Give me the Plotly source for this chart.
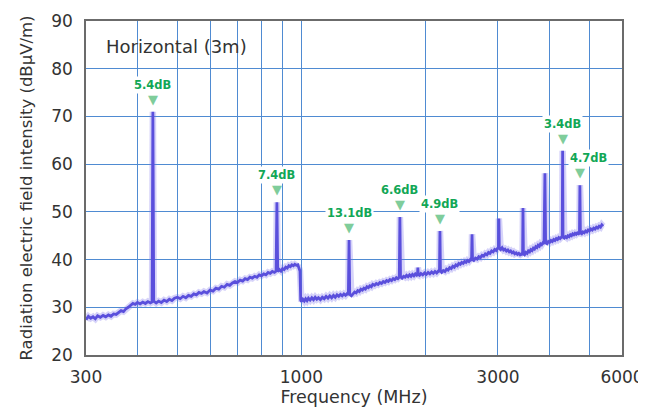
import numpy as np
import plotly.graph_objects as go

# measured emission trace (MHz, dBuV/m)
freq_mhz = [
    300, 304, 308, 312, 316, 320, 325, 330, 335, 340, 345, 350, 355, 360, 365, 370, 375, 380, 385, 390,
    395, 400, 406, 412, 418, 424, 430, 434, 436, 438, 444, 450, 457, 464, 471, 478, 485, 492, 500, 508,
    516, 524, 532, 540, 548, 556, 564, 572, 580, 590, 600, 610, 620, 630, 640, 650, 660, 670, 680, 690,
    700, 710, 720, 730, 740, 750, 760, 770, 780, 790, 800, 810, 820, 830, 840, 850, 860, 868, 872, 876,
    884, 892, 900, 908, 916, 924, 932, 940, 948, 956, 964, 972, 980, 986, 992, 996,
    1000, 1008, 1016, 1024, 1032, 1040, 1050, 1060, 1070, 1080, 1090, 1100, 1112, 1124, 1136, 1148, 1160,
    1172, 1184, 1196, 1208, 1220, 1232, 1244, 1256, 1268, 1280, 1292, 1300, 1305, 1310, 1322, 1334, 1346,
    1358, 1370, 1382, 1394, 1406, 1418, 1430, 1442, 1454, 1466, 1478, 1490, 1505, 1520, 1535, 1550, 1565,
    1580, 1595, 1610, 1625, 1640, 1655, 1670, 1685, 1700, 1715, 1728, 1734, 1740, 1755, 1770, 1785, 1800,
    1815, 1830, 1845, 1860, 1875, 1890, 1905, 1913, 1917, 1921, 1935, 1950, 1970, 1990, 2010, 2030, 2050,
    2070, 2090, 2110, 2130, 2150, 2163, 2169, 2175, 2190, 2210, 2230, 2250, 2270, 2290, 2310, 2330, 2350,
    2370, 2390, 2410, 2430, 2450, 2470, 2490, 2510, 2530, 2550, 2570, 2588, 2595, 2602, 2620, 2645, 2670,
    2695, 2720, 2745, 2770, 2795, 2820, 2845, 2870, 2895, 2920, 2945, 2970, 2995, 3008, 3015, 3022, 3045,
    3070, 3095, 3120, 3145, 3170, 3195, 3220, 3245, 3270, 3295, 3320, 3345, 3370, 3395, 3420, 3442, 3450,
    3458, 3480, 3505, 3530, 3555, 3580, 3605, 3630, 3655, 3680, 3705, 3730, 3755, 3780, 3805, 3830, 3855,
    3880, 3900, 3915, 3945, 3975, 4005, 4035, 4065, 4095, 4125, 4155, 4185, 4215, 4245, 4275, 4295, 4306,
    4315, 4345, 4375, 4405, 4435, 4465, 4495, 4525, 4555, 4585, 4615, 4645, 4675, 4710, 4730, 4742, 4755,
    4790, 4825, 4860, 4895, 4930, 4965, 5000, 5040, 5080, 5120, 5160, 5200, 5240, 5280, 5320, 5360, 5400,
]
level_db = [
    27.4, 28.1, 27.7, 28.0, 27.6, 28.2, 27.9, 28.3, 28.0, 28.4, 28.1, 28.6, 28.5, 29.0, 29.3, 29.1, 29.7, 30.0, 30.4, 30.8,
    30.6, 31.0, 30.7, 31.1, 30.8, 31.2, 30.9, 31.1, 71.0, 31.3, 30.9, 31.3, 31.0, 31.5, 31.2, 31.7, 31.4, 31.9, 32.1, 31.8,
    32.3, 32.0, 32.5, 32.3, 32.8, 32.6, 33.1, 32.9, 33.3, 33.0, 33.6, 33.4, 34.0, 33.8, 34.4, 34.2, 34.8, 34.6, 35.1, 35.4,
    35.2, 35.7, 35.5, 36.0, 35.8, 36.3, 36.1, 36.5, 36.3, 36.8, 36.6, 37.0, 36.8, 37.3, 37.1, 37.5, 37.3, 37.6, 52.0, 37.5,
    37.9, 37.6, 38.1, 37.9, 38.4, 38.2, 38.7, 38.5, 38.9, 38.7, 39.0, 38.8, 38.9, 38.4, 37.6, 31.5,
    31.2, 31.7, 31.3, 31.8, 31.4, 31.9, 31.5, 32.0, 31.6, 32.1, 31.7, 32.0, 31.6, 32.1, 31.8, 32.3, 31.9,
    32.4, 32.0, 32.5, 32.1, 32.6, 32.3, 32.7, 32.4, 32.8, 32.5, 32.9, 32.6, 44.1, 32.7, 32.4, 32.9, 33.2,
    33.0, 33.5, 33.3, 33.8, 33.6, 34.0, 33.8, 34.3, 34.1, 34.5, 34.3, 34.8, 34.6, 35.0, 34.8, 35.2, 35.0,
    35.4, 35.2, 35.6, 35.4, 35.8, 35.6, 36.0, 35.8, 36.2, 36.0, 36.3, 48.9, 36.4, 36.1, 36.5, 36.3, 36.7,
    36.4, 36.8, 36.5, 36.9, 36.6, 37.0, 36.7, 36.8, 38.3, 36.9, 36.7, 37.1, 36.8, 37.2, 36.9, 37.3, 37.0,
    37.4, 37.1, 37.5, 37.2, 37.6, 37.4, 46.0, 37.6, 37.3, 37.7, 37.5, 38.0, 37.8, 38.3, 38.1, 38.6, 38.4,
    38.9, 38.7, 39.2, 39.0, 39.4, 39.2, 39.6, 39.4, 39.8, 39.6, 40.0, 39.8, 45.3, 40.0, 39.8, 40.3, 40.1,
    40.6, 40.4, 40.9, 40.7, 41.2, 41.0, 41.5, 41.3, 41.8, 41.6, 42.1, 41.9, 42.4, 42.2, 48.6, 42.4, 42.1,
    42.5, 42.0, 42.2, 41.8, 42.0, 41.6, 41.8, 41.4, 41.6, 41.2, 41.4, 41.1, 41.3, 41.0, 41.2, 41.0, 50.8,
    41.2, 41.0, 41.5, 41.3, 41.8, 41.6, 42.1, 41.9, 42.4, 42.2, 42.7, 42.5, 43.0, 42.8, 43.3, 43.1, 43.5,
    43.3, 58.1, 43.5, 43.3, 43.8, 43.6, 44.0, 43.8, 44.2, 44.0, 44.4, 44.2, 44.6, 44.4, 44.7, 44.5, 62.8,
    44.7, 44.5, 44.8, 44.6, 45.0, 44.8, 45.2, 45.0, 45.4, 45.2, 45.5, 45.3, 45.6, 45.4, 45.5, 55.6, 45.6,
    45.4, 45.8, 45.6, 46.0, 45.8, 46.2, 46.0, 46.4, 46.2, 46.6, 46.4, 46.8, 46.6, 47.0, 46.8, 47.3, 47.0,
]

# marked peaks and their margin labels
peak_freq = [436, 872, 1305, 1734, 2169, 4306, 4742]
peak_level = [71.0, 52.0, 44.1, 48.9, 46.0, 62.8, 55.6]
peak_label = ["5.4dB", "7.4dB", "13.1dB", "6.6dB", "4.9dB", "3.4dB", "4.7dB"]

x_ticks = [300, 1000, 3000, 6000]
x_minor_grid = [400, 500, 600, 700, 800, 900, 2000, 4000, 5000]
y_ticks = [20, 30, 40, 50, 60, 70, 80, 90]

FONT = "DejaVu Sans"
GRID = "#4f8bd2"
TRACE = "#5a4fdc"
GREEN = "#12a756"
GREEN_LIGHT = "#7fcd9b"

fig = go.Figure()

# soft halo under the trace
fig.add_trace(go.Scatter(
    x=freq_mhz, y=level_db, mode='lines',
    line=dict(color='rgba(120,110,235,0.30)', width=6.5),
    hoverinfo='skip', showlegend=False
))
fig.add_trace(go.Scatter(
    x=freq_mhz, y=level_db, mode='lines',
    line=dict(color=TRACE, width=2.8),
    showlegend=False
))

annotations = []
for f, lv, lab in zip(peak_freq, peak_level, peak_label):
    dx = 9 if lab == "4.7dB" else 0
    annotations.append(dict(
        x=np.log10(f), y=lv, xref='x', yref='y', text="▼", showarrow=False,
        font=dict(color=GREEN_LIGHT, size=13, family="DejaVu Sans"),
        yanchor='bottom', yshift=3
    ))
    annotations.append(dict(
        x=np.log10(f), y=lv, xref='x', yref='y', text=f"<b>{lab}</b>", showarrow=False,
        font=dict(color=GREEN, size=11.5, family=FONT),
        bgcolor='white', borderpad=1,
        yanchor='bottom', yshift=18, xshift=dx
    ))

annotations.append(dict(
    x=0.033, y=0.962, xref='paper', yref='paper', text="Horizontal (3m)",
    showarrow=False, xanchor='left', yanchor='top',
    font=dict(color='#333333', size=18, family=FONT)
))

# the page body adds an 8px margin, so the figure is trimmed by that much
fig.update_layout(
    width=638, height=404,
    margin=dict(l=78, r=24, t=13, b=57),
    paper_bgcolor='white', plot_bgcolor='white',
    font=dict(family=FONT, color='#333333', size=16),
    annotations=annotations,
)

fig.update_xaxes(
    type='log', range=[np.log10(300), np.log10(6000)],
    tickvals=x_ticks, ticktext=[str(v) for v in x_ticks],
    tickfont=dict(size=17), ticklabelstandoff=6,
    showgrid=True, gridcolor=GRID, gridwidth=1.2,
    minor=dict(tickvals=x_minor_grid, showgrid=True, gridcolor=GRID, gridwidth=1.2, ticks=''),
    showline=True, linecolor='#6b6b6b', linewidth=1.6, mirror=True,
    zeroline=False, automargin=False,
    title=dict(text="Frequency (MHz)", font=dict(size=17.5), standoff=4),
)
fig.update_yaxes(
    range=[20, 90], tickvals=y_ticks,
    tickfont=dict(size=17), ticklabelstandoff=8,
    showgrid=True, gridcolor=GRID, gridwidth=1.2,
    showline=True, linecolor='#6b6b6b', linewidth=1.6, mirror=True,
    zeroline=False, automargin=False,
    title=dict(text="Radiation electric field intensity (dBμV/m)", font=dict(size=16.5), standoff=14),
)

fig.write_html("out.html")
